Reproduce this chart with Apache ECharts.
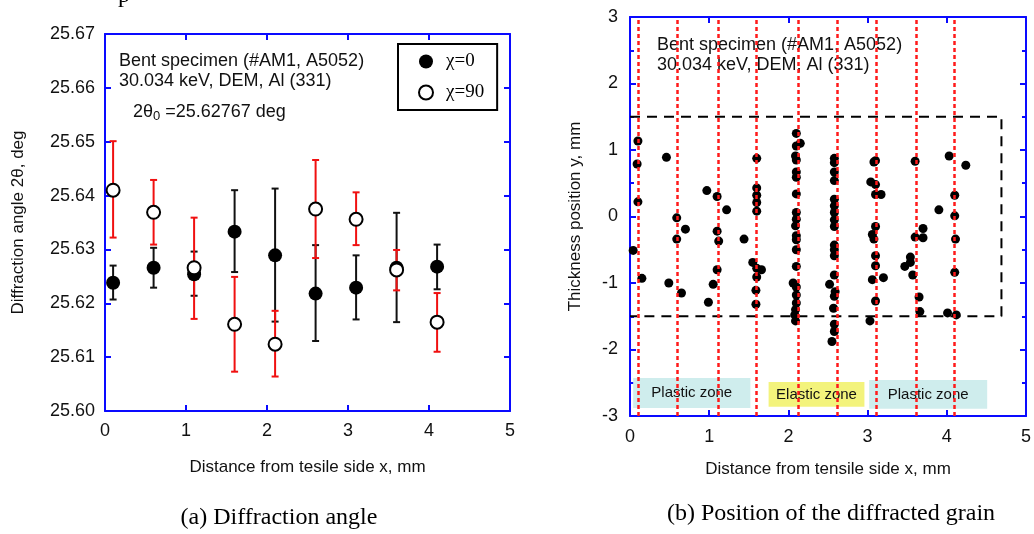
<!DOCTYPE html>
<html>
<head>
<meta charset="utf-8">
<script src="https://cdn.jsdelivr.net/npm/echarts@6/dist/echarts.min.js"></script>
<style>html,body{margin:0;padding:0;background:#fff}#c{width:1034px;height:534px}</style>
</head>
<body>
<div id="c"></div>
<script>
// ---- Panel (a): diffraction angle ----
const xPos    = [0.1, 0.6, 1.1, 1.6, 2.1, 2.6, 3.1, 3.6, 4.1];
const chi0    = [25.6238, 25.6266, 25.6254, 25.6333, 25.6289, 25.6218, 25.6229, 25.6266, 25.6268];
const chi0Hi  = [25.6270, 25.6303, 25.6296, 25.6410, 25.6413, 25.6308, 25.6289, 25.6368, 25.6309];
const chi0Lo  = [25.6207, 25.6229, 25.6214, 25.6258, 25.6166, 25.6130, 25.6170, 25.6165, 25.6226];
const chi90   = [25.6410, 25.6369, 25.6266, 25.6161, 25.6124, 25.6375, 25.6356, 25.6262, 25.6165];
const chi90Hi = [25.6501, 25.6429, 25.6359, 25.6249, 25.6186, 25.6466, 25.6406, 25.6299, 25.6219];
const chi90Lo = [25.6322, 25.6309, 25.6171, 25.6073, 25.6064, 25.6284, 25.6308, 25.6224, 25.6110];

// ---- Panel (b): positions of diffracted grains ----
const grainX = [
  0.10,0.46,0.09,0.10,0.04,0.15,0.49,
  0.59,0.70,0.59,0.65,
  0.97,1.10,1.22,1.10,1.12,1.44,1.10,1.05,0.99,
  1.60,1.60,1.60,1.60,1.60,1.55,1.60,1.66,1.60,1.59,1.59,
  2.10,2.15,2.10,2.09,2.10,2.10,2.10,2.10,2.10,2.10,2.09,2.10,2.10,2.10,2.10,2.06,2.10,2.10,2.10,2.09,2.08,2.09,
  2.58,2.58,2.58,2.58,2.58,2.58,2.58,2.58,2.58,2.58,2.58,2.58,2.58,2.52,2.59,2.58,2.57,2.58,2.58,2.55,
  3.08,3.10,3.04,3.10,3.10,3.17,3.10,3.06,3.08,3.10,3.10,3.06,3.20,3.10,3.03,
  3.60,3.70,3.60,3.70,3.54,3.54,3.47,3.57,3.65,3.66,
  4.03,4.24,4.10,3.90,4.10,4.11,4.10,4.01,4.12
];
const grainY = [
  1.135,0.89,0.79,0.22,-0.51,-0.93,-1.00,
  -0.02,-0.19,-0.34,-1.15,
  0.39,0.30,0.10,-0.22,-0.37,-0.34,-0.80,-1.02,-1.29,
  0.875,0.43,0.32,0.21,0.08,-0.69,-0.78,-0.80,-0.91,-1.11,-1.32,
  1.25,1.10,1.06,0.91,0.85,0.67,0.59,0.34,0.06,-0.04,-0.14,-0.29,-0.35,-0.50,-0.75,-1.00,-1.06,-1.18,-1.30,-1.40,-1.48,-1.57,
  0.875,0.81,0.67,0.54,0.26,0.16,0.06,-0.05,-0.15,-0.43,-0.50,-0.59,-0.88,-1.02,-1.13,-1.20,-1.38,-1.62,-1.73,-1.88,
  0.82,0.84,0.52,0.48,0.33,0.33,-0.15,-0.27,-0.34,-0.59,-0.74,-0.95,-0.92,-1.27,-1.57,
  0.83,-0.18,-0.31,-0.32,-0.61,-0.69,-0.75,-0.88,-1.21,-1.43,
  0.91,0.77,0.32,0.10,0.01,-0.34,-0.84,-1.45,-1.48
];
const scanLines = [0.10, 0.60, 1.12, 1.60, 2.13, 2.62, 3.11, 3.61, 4.09];
const boxX = [0, 4.69, 4.69, 0];
const boxY = [1.5, 1.5, -1.5, -1.5];
const zoneNames = ['Plastic zone', 'Elastic zone', 'Plastic zone'];
const zoneX0 = [0.04, 1.75, 3.02];
const zoneX1 = [1.52, 2.96, 4.51];
const zoneY0 = [-2.43, -2.49, -2.46];
const zoneY1 = [-2.88, -2.86, -2.89];
const zoneColors = ['#cfeded', '#f3f37c', '#cfeded'];

const BLUE = '#0a0aff';
const SANS = 'Liberation Sans, Arial, sans-serif';
const SERIF = 'Liberation Serif, Times New Roman, serif';

function frameAxis(extra) {
  return Object.assign({
    axisLine: { show: true, onZero: false, lineStyle: { color: BLUE, width: 2 } },
    axisTick: { show: true, inside: true, length: 6, lineStyle: { color: BLUE, width: 2 } },
    splitLine: { show: false },
    axisLabel: { show: false }
  }, extra);
}

function errBars(lo, hi) {
  return xPos.map((x, i) => [x, lo[i], hi[i]]);
}
function errRender(color) {
  return function (params, api) {
    const x = api.value(0);
    const a = api.coord([x, api.value(1)]);
    const b = api.coord([x, api.value(2)]);
    const w = 3.5;
    const st = { stroke: color, lineWidth: 2 };
    return {
      type: 'group',
      children: [
        { type: 'line', shape: { x1: a[0], y1: a[1], x2: b[0], y2: b[1] }, style: st },
        { type: 'line', shape: { x1: a[0] - w, y1: a[1], x2: a[0] + w, y2: a[1] }, style: st },
        { type: 'line', shape: { x1: b[0] - w, y1: b[1], x2: b[0] + w, y2: b[1] }, style: st }
      ]
    };
  };
}

const chart = echarts.init(document.getElementById('c'), null, { renderer: 'canvas' });

const option = {
  animation: false,
  backgroundColor: '#fff',
  textStyle: { fontFamily: SANS },
  grid: [
    { left: 105, top: 34, width: 405, height: 377 },
    { left: 630, top: 17, width: 400, height: 399 }
  ],
  xAxis: [
    frameAxis({ gridIndex: 0, type: 'value', min: 0, max: 5, interval: 1, position: 'bottom',
      axisLabel: { show: true, margin: 11, fontSize: 18, color: '#111', fontFamily: SANS },
      name: 'Distance from tesile side x, mm', nameLocation: 'middle', nameGap: 48,
      nameTextStyle: { fontSize: 17, color: '#111', fontFamily: SANS } }),
    frameAxis({ gridIndex: 0, type: 'value', min: 0, max: 5, interval: 1, position: 'top' }),
    frameAxis({ gridIndex: 1, type: 'value', min: 0, max: 5, interval: 1, position: 'bottom',
      axisLabel: { show: true, margin: 12, fontSize: 18, color: '#111', fontFamily: SANS },
      name: 'Distance from tensile side x, mm', nameLocation: 'middle', nameGap: 45,
      nameTextStyle: { fontSize: 17, color: '#111', fontFamily: SANS } }),
    frameAxis({ gridIndex: 1, type: 'value', min: 0, max: 5, interval: 1, position: 'top' })
  ],
  yAxis: [
    frameAxis({ gridIndex: 0, type: 'value', min: 25.60, max: 25.67, interval: 0.01, position: 'left',
      axisLabel: { show: true, margin: 10, fontSize: 18, color: '#111', fontFamily: SANS,
        formatter: v => v.toFixed(2) },
      name: 'Diffraction angle 2θ, deg', nameLocation: 'middle', nameGap: 78,
      nameTextStyle: { fontSize: 17, color: '#111', fontFamily: SANS } }),
    frameAxis({ gridIndex: 0, type: 'value', min: 25.60, max: 25.67, interval: 0.01, position: 'right' }),
    frameAxis({ gridIndex: 1, type: 'value', min: -3, max: 3, interval: 1, position: 'left',
      minorTick: { show: true, splitNumber: 2, length: 4, lineStyle: { color: BLUE, width: 2 } },
      axisLabel: { show: true, margin: 12, fontSize: 18, color: '#111', fontFamily: SANS },
      name: 'Thickness position y, mm', nameLocation: 'middle', nameGap: 46,
      nameTextStyle: { fontSize: 17, color: '#111', fontFamily: SANS } }),
    frameAxis({ gridIndex: 1, type: 'value', min: -3, max: 3, interval: 1, position: 'right',
      minorTick: { show: true, splitNumber: 2, length: 4, lineStyle: { color: BLUE, width: 2 } } })
  ],
  legend: {
    data: ['χ=0', 'χ=90'],
    orient: 'vertical',
    left: 398, top: 44,
    padding: [8, 13, 8, 20],
    itemGap: 12,
    itemWidth: 14, itemHeight: 14,
    borderColor: '#000', borderWidth: 2, borderRadius: 0,
    backgroundColor: '#fff',
    textStyle: { fontFamily: SERIF, fontSize: 19, color: '#000', padding: [0, 0, 0, 8] }
  },
  series: [
    { type: 'custom', name: 'err0', xAxisIndex: 0, yAxisIndex: 0, z: 2,
      renderItem: errRender('#111'), data: errBars(chi0Lo, chi0Hi), encode: { x: 0, y: [1, 2] } },
    { type: 'custom', name: 'err90', xAxisIndex: 0, yAxisIndex: 0, z: 3,
      renderItem: errRender('#f01010'), data: errBars(chi90Lo, chi90Hi), encode: { x: 0, y: [1, 2] } },
    { type: 'scatter', name: 'χ=0', xAxisIndex: 0, yAxisIndex: 0, z: 4,
      symbol: 'circle', symbolSize: 14,
      itemStyle: { color: '#000', borderColor: '#000', borderWidth: 0, opacity: 1 },
      data: xPos.map((x, i) => [x, chi0[i]]) },
    { type: 'scatter', name: 'χ=90', xAxisIndex: 0, yAxisIndex: 0, z: 5,
      symbol: 'circle', symbolSize: 13,
      itemStyle: { color: '#fff', borderColor: '#000', borderWidth: 2, opacity: 1 },
      data: xPos.map((x, i) => [x, chi90[i]]) },
    // panel b
    { type: 'line', name: 'box', xAxisIndex: 2, yAxisIndex: 2, z: 2,
      symbol: 'none', silent: true,
      lineStyle: { color: '#000', width: 2, type: [10, 7] },
      data: boxX.map((x, i) => [x, boxY[i]]) },
    { type: 'scatter', name: 'grains', xAxisIndex: 2, yAxisIndex: 2, z: 3,
      symbol: 'circle', symbolSize: 9,
      itemStyle: { color: '#000', opacity: 1 },
      data: grainX.map((x, i) => [x, grainY[i]]) },
    { type: 'line', name: 'zones', xAxisIndex: 2, yAxisIndex: 2, z: 2, data: [], silent: true,
      markArea: {
        silent: true,
        data: zoneNames.map((n, i) => [
          { name: n, xAxis: zoneX0[i], yAxis: zoneY0[i],
            itemStyle: { color: zoneColors[i], opacity: 1 } },
          { xAxis: zoneX1[i], yAxis: zoneY1[i] }
        ]),
        label: { show: true, position: 'inside', color: '#111', fontSize: 15, fontFamily: SANS }
      } },
    { type: 'line', name: 'scan', xAxisIndex: 2, yAxisIndex: 2, z: 6, data: [], silent: true,
      markLine: {
        silent: true, symbol: 'none', label: { show: false },
        lineStyle: { color: '#ff1a1a', width: 2.5, type: [4, 3], opacity: 1 },
        data: scanLines.map(v => ({ xAxis: v }))
      } }
  ],
  graphic: [
    { type: 'text', left: 118, top: -16, style: { text: 'p', font: '24px ' + SERIF, fill: '#000' } },
    { type: 'text', left: 119, top: 52, style: { text: 'Bent specimen (#AM1, A5052)', font: '18px ' + SANS, fill: '#111' } },
    { type: 'text', left: 119, top: 72, style: { text: '30.034 keV, DEM, Al (331)', font: '18px ' + SANS, fill: '#111' } },
    { type: 'text', left: 133, top: 103, style: {
        rich: { a: { fontSize: 18, fontFamily: SANS, fill: '#111' }, s: { fontSize: 13, fontFamily: SANS, fill: '#111', verticalAlign: 'bottom', padding: [8, 0, 0, 0] } },
        text: '{a|2θ}{s|0}{a| =25.62767 deg}' } },
    { type: 'text', left: 657, top: 36, style: { text: 'Bent specimen (#AM1, A5052)', font: '18px ' + SANS, fill: '#111' } },
    { type: 'text', left: 657, top: 56, style: { text: '30.034 keV, DEM, Al (331)', font: '18px ' + SANS, fill: '#111' } },
    { type: 'text', x: 279, y: 518, style: { text: '(a) Diffraction angle', font: '24px ' + SERIF, fill: '#000', textAlign: 'center', textVerticalAlign: 'middle' } },
    { type: 'text', x: 831, y: 514, style: { text: '(b) Position of the diffracted grain', font: '24px ' + SERIF, fill: '#000', textAlign: 'center', textVerticalAlign: 'middle' } }
  ]
};
chart.setOption(option);
</script>
</body>
</html>
